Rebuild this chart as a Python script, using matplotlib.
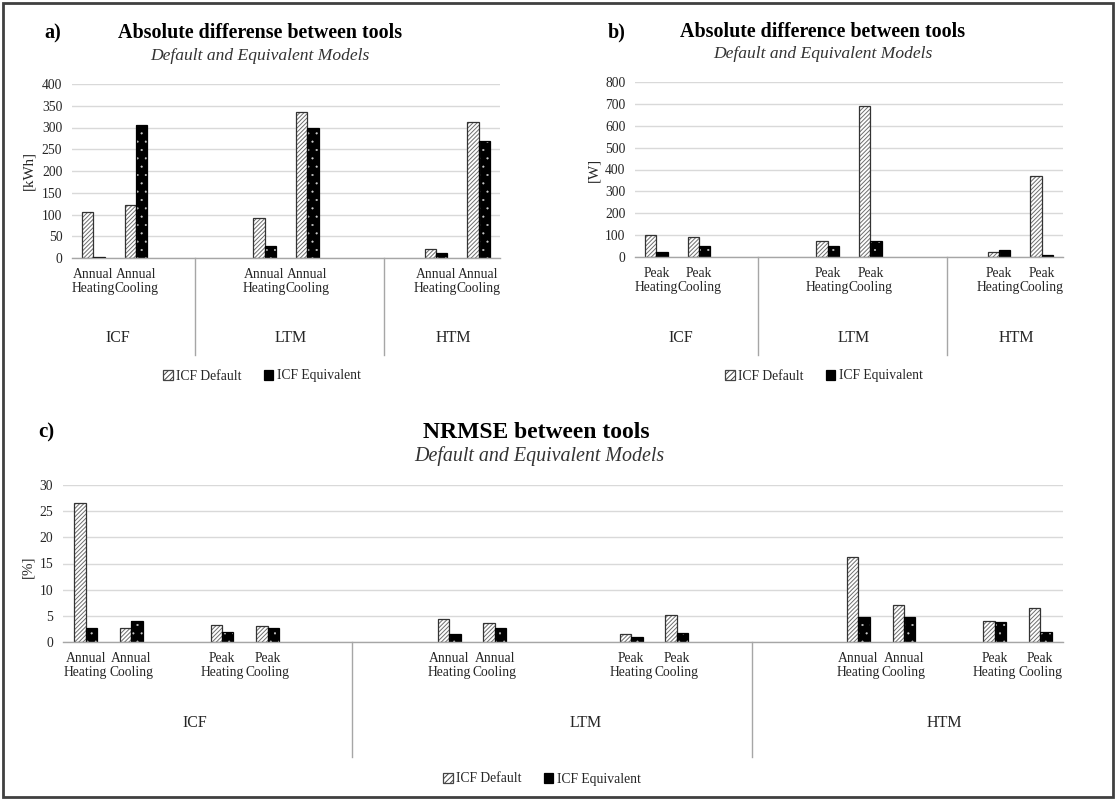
import matplotlib
matplotlib.use("Agg")
import matplotlib.pyplot as plt
from matplotlib.patches import Patch, Rectangle
from matplotlib.lines import Line2D
from matplotlib import transforms

plt.rcParams['font.family'] = ['Liberation Serif', 'DejaVu Serif']
plt.rcParams['hatch.linewidth'] = 0.7

# ---------------- data ----------------
groups = ['ICF', 'LTM', 'HTM']
series = ['ICF Default', 'ICF Equivalent']

metrics_a = ['Annual\nHeating', 'Annual\nCooling']
default_a = [105, 121, 92, 335, 21, 312]
equiv_a = [3, 305, 27, 300, 12, 268]

metrics_b = ['Peak\nHeating', 'Peak\nCooling']
default_b = [100, 91, 72, 692, 21, 370]
equiv_b = [21, 50, 50, 72, 30, 9]

metrics_c = ['Annual\nHeating', 'Annual\nCooling', 'Peak\nHeating', 'Peak\nCooling']
default_c = [26.5, 2.6, 3.2, 3.0, 4.45, 3.7, 1.45, 5.1, 16.3, 7.05, 4.0, 6.5]
equiv_c = [2.6, 4.1, 1.9, 2.6, 1.6, 2.6, 0.9, 1.65, 4.7, 4.7, 3.9, 1.9]

# ---------------- layout (category slots, incl. blank Excel categories) ----------------
slots_ab = [0, 1, 4, 5, 8, 9]
nslots_ab = 10
sep_ab = [2.37, 6.8]
glabel_ab = [0.57, 4.6, 8.4]

slots_c = [0, 1, 3, 4, 8, 9, 12, 13, 17, 18, 20, 21]
nslots_c = 22
sep_c = [5.85, 14.65]
glabel_c = [2.4, 11.0, 18.9]

W, H = 1116, 800
fig = plt.figure(figsize=(W / 100, H / 100), dpi=100)

TXT = '#262626'
GRID = '#d9d9d9'
AXC = '#a6a6a6'


def fx(px):
    return px / W


def fy(py):
    return 1 - py / H


def draw_panel(ax, slots, nslots, labels, dvals, evals, ymax, ystep, bw,
               seps, glabs, group_y, sep_bottom):
    x_d = [s - bw / 2 for s in slots]
    x_e = [s + bw / 2 for s in slots]
    # default: white with diagonal hatch
    with plt.rc_context({'hatch.linewidth': 0.7}):
        ax.bar(x_d, dvals, width=bw, color='white', edgecolor='#6e6e6e',
               hatch='////////', linewidth=0, zorder=3)
    ax.bar(x_d, dvals, width=bw, fill=False, edgecolor='#333333',
           linewidth=0.9, zorder=4)
    # equivalent: black with white dots
    with plt.rc_context({'hatch.linewidth': 0.3}):
        ax.bar(x_e, evals, width=bw, color='black', edgecolor='#cccccc',
               hatch='..', linewidth=0, zorder=3)
    ax.bar(x_e, evals, width=bw, fill=False, edgecolor='black',
           linewidth=0.9, zorder=4)

    ax.set_xlim(-0.5, nslots - 0.5)
    ax.set_ylim(0, ymax)
    ax.set_yticks([v * ystep for v in range(int(ymax / ystep) + 1)])
    ax.yaxis.grid(True, color=GRID, linewidth=1.0, zorder=0)
    ax.set_axisbelow(True)
    for s in ['top', 'right', 'left']:
        ax.spines[s].set_visible(False)
    ax.spines['bottom'].set_color(AXC)
    ax.spines['bottom'].set_linewidth(1.0)
    ax.spines['bottom'].set_zorder(5)
    ax.tick_params(axis='y', length=0, pad=7, labelsize=9.8, labelcolor=TXT)
    ax.set_xticks(slots)
    ax.set_xticklabels(labels, fontsize=9.8, color=TXT, linespacing=1.1)
    ax.tick_params(axis='x', length=0, pad=7)

    tr = transforms.blended_transform_factory(ax.transData, fig.transFigure)
    y0 = ax.get_position().y0
    for s in seps:
        ln = Line2D([s, s], [y0, sep_bottom], transform=tr, color=AXC,
                    linewidth=1.0, clip_on=False)
        fig.add_artist(ln)
    for g, gx in zip(groups, glabs):
        fig.text(gx, group_y, g, transform=tr, ha='center', va='center',
                 fontsize=11.5, color=TXT)


def legend(xc, yc):
    h = [Patch(facecolor='white', edgecolor='#444444', hatch='//////', linewidth=0.9),
         Patch(facecolor='black', edgecolor='black', linewidth=0.9)]
    fig.legend(h, series, loc='center', bbox_to_anchor=(xc, yc), ncol=2,
               frameon=False, fontsize=9.8, handlelength=0.7, handleheight=0.7,
               handletextpad=0.25, columnspacing=1.6, labelcolor=TXT)


# panel a
axa = fig.add_axes([fx(72), fy(258), fx(500 - 72), (258 - 84) / H])
draw_panel(axa, slots_ab, nslots_ab, metrics_a * 3, default_a, equiv_a,
           400, 50, 0.26, sep_ab, glabel_ab, fy(338), fy(355))
fig.text(fx(29), fy(170), '[kWh]', rotation=90, ha='center', va='center',
         fontsize=10.8, color=TXT)
fig.text(fx(53), fy(33), 'a)', ha='center', va='center', fontsize=14.5,
         fontweight='bold')
fig.text(fx(260), fy(33), 'Absolute differense between tools', ha='center',
         va='center', fontsize=14.4, fontweight='bold')
fig.text(fx(260), fy(56), 'Default and Equivalent Models', ha='center',
         va='center', fontsize=12.6, style='italic', color='#333333')
legend(fx(262), fy(376))

# panel b
axb = fig.add_axes([fx(635), fy(257), fx(1063 - 635), (257 - 82) / H])
draw_panel(axb, slots_ab, nslots_ab, metrics_b * 3, default_b, equiv_b,
           800, 100, 0.26, sep_ab, glabel_ab, fy(338), fy(355))
fig.text(fx(594), fy(170), '[W]', rotation=90, ha='center', va='center',
         fontsize=10.8, color=TXT)
fig.text(fx(617), fy(32), 'b)', ha='center', va='center', fontsize=14.5,
         fontweight='bold')
fig.text(fx(823), fy(32), 'Absolute difference between tools', ha='center',
         va='center', fontsize=14.4, fontweight='bold')
fig.text(fx(823), fy(54), 'Default and Equivalent Models', ha='center',
         va='center', fontsize=12.6, style='italic', color='#333333')
legend(fx(824), fy(376))

# panel c
axc = fig.add_axes([fx(63), fy(642), fx(1063 - 63), (642 - 485) / H])
draw_panel(axc, slots_c, nslots_c, metrics_c * 3, default_c, equiv_c,
           30, 5, 0.25, sep_c, glabel_c, fy(723), fy(757))
fig.text(fx(28), fy(567), '[%]', rotation=90, ha='center', va='center',
         fontsize=10.8, color=TXT)
fig.text(fx(46), fy(432), 'c)', ha='center', va='center', fontsize=15,
         fontweight='bold')
fig.text(fx(536), fy(433), 'NRMSE between tools', ha='center',
         va='center', fontsize=17, fontweight='bold')
fig.text(fx(539), fy(456), 'Default and Equivalent Models', ha='center',
         va='center', fontsize=14.4, style='italic', color='#333333')
legend(fx(542), fy(779))

# outer frame
fig.add_artist(Rectangle((fx(3), fy(797)), fx(1110), 794 / H, transform=fig.transFigure,
                         fill=False, edgecolor='#404040', linewidth=2))

fig.savefig('out.png', dpi=100)
